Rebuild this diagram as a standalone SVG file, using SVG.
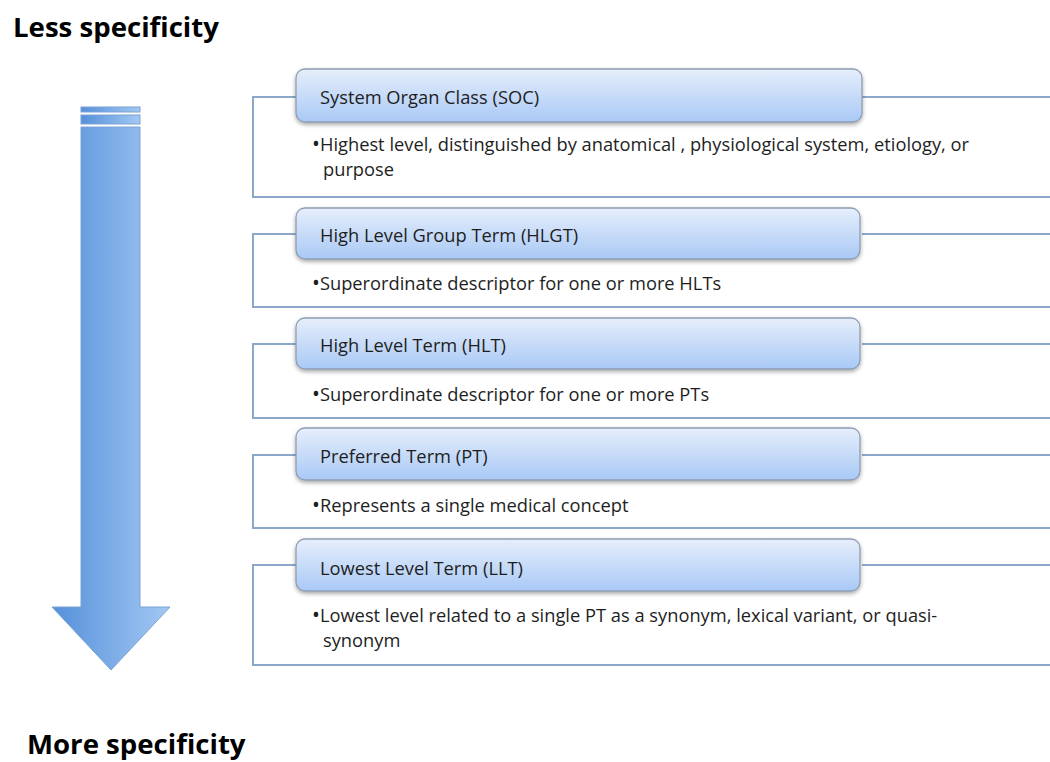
<svg xmlns="http://www.w3.org/2000/svg" width="1050" height="762" viewBox="0 0 1050 762">
<defs>
<linearGradient id="hdr" x1="0" y1="0" x2="0" y2="1">
<stop offset="0" stop-color="#e6eefb"/>
<stop offset="1" stop-color="#a9c9f6"/>
</linearGradient>
<linearGradient id="arr" x1="0" y1="0" x2="1" y2="0">
<stop offset="0" stop-color="#5590da"/>
<stop offset="1" stop-color="#a3c8f3"/>
</linearGradient>
<filter id="sh" x="-5%" y="-20%" width="110%" height="150%">
<feGaussianBlur in="SourceAlpha" stdDeviation="2"/>
<feOffset dx="0" dy="2" result="b"/>
<feComponentTransfer><feFuncA type="linear" slope="0.35"/></feComponentTransfer>
<feMerge><feMergeNode/><feMergeNode in="SourceGraphic"/></feMerge>
</filter>
<style>
.hdr{fill:url(#hdr);stroke:#8d9db3;stroke-width:1.3;filter:url(#sh)}
.ln{fill:none;stroke:#8ba7c9;stroke-width:2}
.t{font-family:"Open Sans","Liberation Sans",sans-serif;font-size:18.3px;fill:#1e1e1e}
.b{font-size:21px}
.title{font-family:"Open Sans","Liberation Sans",sans-serif;font-size:27.6px;font-weight:bold;fill:#000}
</style>
</defs>
<rect width="1050" height="762" fill="#fff"/>
<text class="title" x="13" y="37">Less specificity</text>
<text class="title" x="27" y="754">More specificity</text>
<g id="arrow">
<rect x="81" y="107" width="59" height="5" fill="url(#arr)" stroke="#7ba3d4" stroke-width="1"/>
<rect x="81" y="115" width="59" height="9" fill="url(#arr)" stroke="#7ba3d4" stroke-width="1"/>
<polygon points="81,127 140,127 140,607 170,607 111,670 52,607 81,607" fill="url(#arr)" stroke="#7ba3d4" stroke-width="1"/>
</g>
<g id="connectors">
<path class="ln" d="M296,97 H253 V197 H1050 M862,97 H1050"/>
<path class="ln" d="M296,234 H253 V307 H1050 M862,234 H1050"/>
<path class="ln" d="M296,344 H253 V418 H1050 M862,344 H1050"/>
<path class="ln" d="M296,455 H253 V528 H1050 M862,455 H1050"/>
<path class="ln" d="M296,565 H253 V665 H1050 M862,565 H1050"/>
</g>
<g id="soc">
<rect class="hdr" x="296" y="69" width="566" height="53" rx="9"/>
<text class="t" x="320" y="104">System Organ Class (SOC)</text>
<text class="t" x="312" y="151"><tspan class="b">•</tspan>Highest level, distinguished by anatomical , physiological system, etiology, or</text>
<text class="t" x="323" y="176">purpose</text>
</g>
<g id="hlgt">
<rect class="hdr" x="296" y="208" width="564" height="51" rx="9"/>
<text class="t" x="320" y="242">High Level Group Term (HLGT)</text>
<text class="t" x="312" y="290"><tspan class="b">•</tspan>Superordinate descriptor for one or more HLTs</text>
</g>
<g id="hlt">
<rect class="hdr" x="296" y="318" width="564" height="51" rx="9"/>
<text class="t" x="320" y="352">High Level Term (HLT)</text>
<text class="t" x="312" y="401"><tspan class="b">•</tspan>Superordinate descriptor for one or more PTs</text>
</g>
<g id="pt">
<rect class="hdr" x="296" y="428" width="564" height="52" rx="9"/>
<text class="t" x="320" y="463">Preferred Term (PT)</text>
<text class="t" x="312" y="512"><tspan class="b">•</tspan>Represents a single medical concept</text>
</g>
<g id="llt">
<rect class="hdr" x="296" y="539" width="564" height="52" rx="9"/>
<text class="t" x="320" y="575">Lowest Level Term (LLT)</text>
<text class="t" x="312" y="622"><tspan class="b">•</tspan>Lowest level related to a single PT as a synonym, lexical variant, or quasi-</text>
<text class="t" x="323" y="647">synonym</text>
</g>
</svg>
